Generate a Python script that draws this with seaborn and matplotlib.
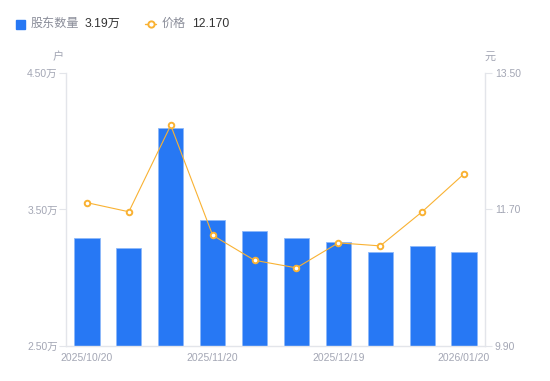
import matplotlib
matplotlib.use("Agg")
import matplotlib.pyplot as plt
import pandas as pd
import seaborn as sns
from matplotlib.lines import Line2D
from matplotlib.patches import Rectangle

# Data
dates = [
    "2025/10/20", "2025/10/31", "2025/11/10", "2025/11/20", "2025/11/28",
    "2025/12/10", "2025/12/19", "2025/12/31", "2026/01/09", "2026/01/20",
]
holders = [3.29, 3.22, 4.10, 3.42, 3.34, 3.29, 3.26, 3.19, 3.23, 3.19]  # 万户
price = [11.79, 11.67, 12.81, 11.36, 11.03, 10.93, 11.26, 11.22, 11.67, 12.17]  # 元
shown_dates = ["2025/10/20", "2025/11/20", "2025/12/19", "2026/01/20"]

df = pd.DataFrame({"date": dates, "holders": holders, "price": price})

BLUE = "#2778F4"
ORANGE = "#F9B233"
GREY_TXT = "#A3A6B4"
AXIS_GREY = "#E3E5EA"

sns.set_style("white")
plt.rcParams["font.family"] = ["Liberation Sans", "Noto Sans CJK SC", "DejaVu Sans"]

fig = plt.figure(figsize=(5.5, 3.81), dpi=100)
ax = fig.add_axes([0.12, 0.0919, 0.7618, 0.7165])

# Bars: shareholder count
sns.barplot(data=df, x="date", y="holders", order=dates, color=BLUE,
            saturation=1, width=0.6, edgecolor="#8DB8FA", linewidth=0.6, ax=ax)
ax.set_ylim(2.5, 4.5)
ax.set_yticks([2.5, 3.5, 4.5])
ax.set_yticklabels([f"{v:.2f}万" for v in [2.5, 3.5, 4.5]])
ax.set_xlim(-0.5, len(dates) - 0.5)
ax.set_xticks([dates.index(d) for d in shown_dates])
ax.set_xticklabels(shown_dates)
ax.set_xlabel("")
ax.set_ylabel("")

# Line: price on twin axis
ax2 = ax.twinx()
sns.pointplot(data=df, x="date", y="price", order=dates, color=ORANGE,
              markers="o", linestyles="-", ax=ax2,
              markersize=4, markerfacecolor="white", markeredgewidth=1.4,
              linewidth=0.8)
ax2.set_ylim(9.9, 13.5)
ax2.set_yticks([9.9, 11.7, 13.5])
ax2.set_yticklabels([f"{v:.2f}" for v in [9.9, 11.7, 13.5]])
ax2.set_xlim(-0.5, len(dates) - 0.5)
ax2.set_ylabel("")
ax2.set_xlabel("")

for a in (ax, ax2):
    for s in a.spines.values():
        s.set_visible(False)
ax.spines["left"].set_visible(True)
ax.spines["bottom"].set_visible(True)
ax2.spines["right"].set_visible(True)
for s in (ax.spines["left"], ax.spines["bottom"], ax2.spines["right"]):
    s.set_color(AXIS_GREY)
    s.set_linewidth(1.0)

ax.tick_params(axis="y", length=5, width=0.8, color=AXIS_GREY,
               labelsize=7.5, labelcolor=GREY_TXT, pad=1, left=True)
ax.tick_params(axis="x", length=0, labelsize=7.5, labelcolor=GREY_TXT, pad=5)
ax2.tick_params(axis="y", length=5, width=0.8, color=AXIS_GREY,
                labelsize=7.5, labelcolor=GREY_TXT, pad=2, right=True)

# Unit labels
fig.text(58 / 550, 1 - 57 / 381, "户", fontsize=8, color=GREY_TXT, ha="center", va="center")
fig.text(490 / 550, 1 - 57 / 381, "元", fontsize=8, color=GREY_TXT, ha="center", va="center")

# Legend (custom, top-left)
ly = 1 - 24 / 381
fig.patches.append(Rectangle((16 / 550, 1 - 29 / 381), 9 / 550, 9 / 381,
                             transform=fig.transFigure, color=BLUE, figure=fig))
fig.text(31 / 550, ly, "股东数量", fontsize=8.7, color="#8A8D99", va="center")
fig.text(85 / 550, ly, "3.19万", fontsize=8.7, color="#333333", va="center")
fig.lines.append(Line2D([145 / 550, 156 / 550], [ly, ly], transform=fig.transFigure,
                        color=ORANGE, lw=1, figure=fig))
fig.lines.append(Line2D([150.5 / 550], [ly], transform=fig.transFigure,
                        color=ORANGE, lw=0, marker="o", markersize=4.5,
                        markerfacecolor="white", markeredgewidth=1.4, figure=fig))
fig.text(162 / 550, ly, "价格", fontsize=8.7, color="#8A8D99", va="center")
fig.text(192 / 550, ly, "12.170", fontsize=8.7, color="#333333", va="center")

fig.savefig("out.png", dpi=100)
